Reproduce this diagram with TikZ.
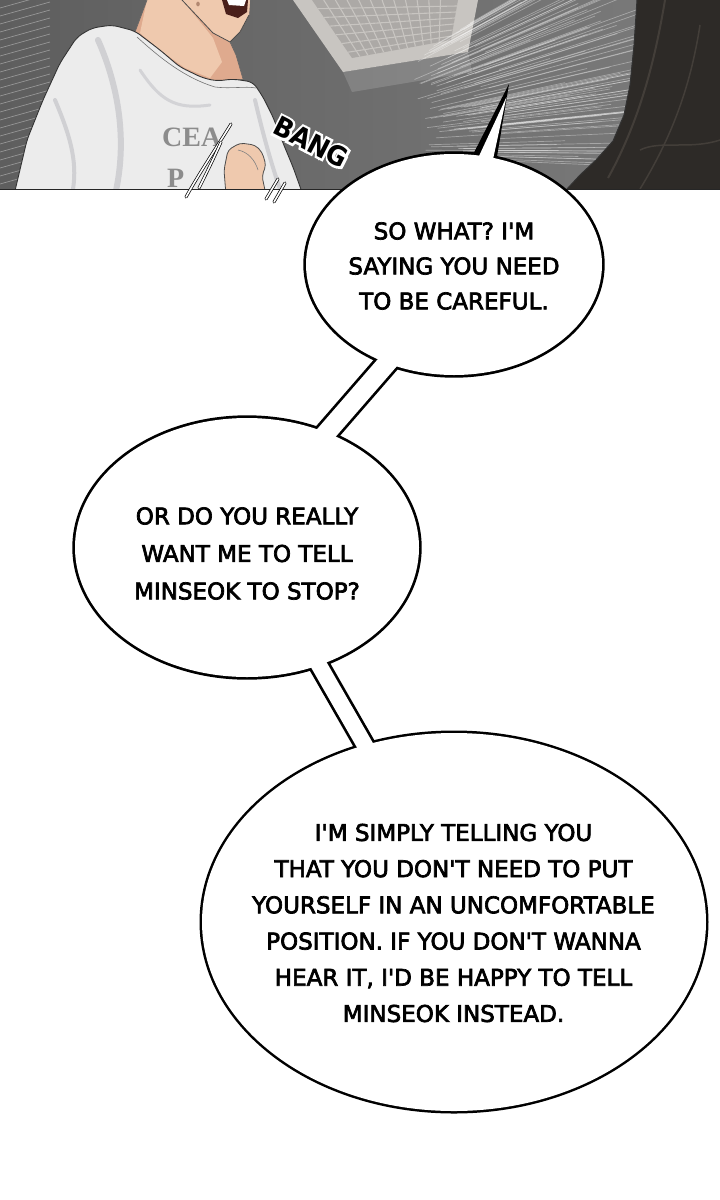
\documentclass[tikz,border=0pt]{standalone}
\usepackage{fontspec}
\setmainfont{DejaVu Sans}
\newfontfamily\bubblefont{DejaVu Sans}[FakeBold=3]
\newfontfamily\bangfont{DejaVu Sans Bold}
\newfontfamily\bangwhitefont{DejaVu Sans Bold}[FakeBold=18]
\newfontfamily\shirtfont{Liberation Serif}
\usetikzlibrary{calc}
\definecolor{bgdark}{HTML}{5E5E5E}
\definecolor{bgright}{HTML}{7C7C7C}
\definecolor{lightc}{HTML}{C8C5C1}
\definecolor{gridc}{HTML}{ACA9A6}
\definecolor{figc}{HTML}{2D2A27}
\definecolor{foldc}{HTML}{433E39}
\definecolor{shirtc}{HTML}{ECECEC}
\definecolor{shirtshade}{HTML}{CDCDD1}
\definecolor{skinc}{HTML}{EFC9AE}
\definecolor{skinshade}{HTML}{DFAA8E}
\definecolor{mouthc}{HTML}{4A1F1A}
\definecolor{printc}{HTML}{8C8C8C}
\begin{document}
\begin{tikzpicture}[x=1pt,y=-1pt,
  bubbleline/.style={line width=5.4pt, draw=black, line join=round},
  bubbletext/.style={align=center, text=black, inner sep=0pt},
  speedline/.style={line width=0.7pt, draw=white, opacity=0.35},
  motionline/.style={draw=black, line width=0.7pt, double=white, double distance=1.6pt, line cap=round},
  bangstyle/.style={inner sep=0pt, rotate=-27, xscale=0.92}
]
\useasboundingbox (0,0) rectangle (720,1200);
\fill[white] (0,0) rectangle (720,1200);

% ---------------- top panel ----------------
\begin{scope}
\clip (0,0) rectangle (720,189);
\shade[left color=bgdark, right color=bgright] (0,0) rectangle (720,189);
% ceiling light
\fill[lightc] (293,0) -- (478,0) -- (468,52) -- (343,72) -- cycle;
\fill[white, opacity=0.15] (343,72) -- (468,52) -- (472,72) -- (352,92) -- cycle;
\begin{scope}
\clip (312,0) -- (458,0) -- (451,40) -- (352,58) -- cycle;
\fill[gridc] (300,-5) rectangle (480,80);
\foreach \t in {0.08,0.16,...,0.96}
  \draw[lightc, line width=1.1pt] ($(312,0)!\t!(458,0)$) -- ($(352,58)!\t!(451,40)$);
\foreach \t in {0.15,0.3,...,0.95}
  \draw[lightc, line width=1.1pt] ($(312,0)!\t!(352,58)$) -- ($(458,0)!\t!(451,40)$);
\end{scope}
% speed lines
\pgfmathsetseed{11}
\foreach \i in {1,...,110}{
  \pgfmathsetmacro\ang{-30+33*rnd}
  \pgfmathsetmacro\ra{175+90*rnd}
  \pgfmathsetmacro\rb{\ra+110+130*rnd}
  \draw[speedline] ($(250,150)+(\ang:\ra)$) -- ($(250,150)+(\ang:\rb)$);
}
\foreach \yy in {8,16,...,184}
  \draw[speedline] (0,\yy) -- (50,\yy-14);
% dark figure on the right
\fill[figc] (637,0) -- (720,0) -- (720,189) -- (567,189) -- (580,175) -- (596,160) -- (613,141) -- (624,115) -- (630,85) -- (634,45) -- cycle;
\draw[foldc, line width=2pt] (665,0) .. controls (655,60) and (640,120) .. (608,178);
\draw[foldc, line width=1.5pt] (700,25) .. controls (690,90) and (670,140) .. (640,189);
\draw[foldc, line width=1.5pt] (640,150) .. controls (660,140) and (690,150) .. (720,140);
\draw[black!80, line width=1pt] (637,0) -- (634,45) -- (630,85) -- (624,115) -- (613,141) -- (596,160) -- (580,175) -- (567,189);
% skin: neck and face
\fill[skinshade] (147,0) -- (250,0) -- (249,15) -- (240,32) -- (230,42) -- (236,55) -- (243,79) -- (217,82) -- (203,80) -- (180,69) -- (160,52) -- (140,35) -- (135,32) -- cycle;
\fill[skinc] (147,0) -- (182,0) -- (205,28) -- (213,38) -- (222,62) -- (210,78) -- (185,68) -- (160,50) -- (140,33) -- cycle;
\fill[skinc] (182,0) -- (250,0) -- (249,15) -- (240,32) -- (230,42) -- (213,33) -- cycle;
\draw[black!70, line width=0.8pt] (182,0) -- (213,33) -- (230,42) -- (240,32) -- (249,15);
\draw[black!60, line width=0.7pt] (147,0) -- (135,32);
\draw[black!60, line width=0.6pt] (230,42) -- (236,55) -- (243,79);
\fill[mouthc] (222,0) -- (248,0) -- (247,12) -- (238,18) -- (226,14) -- cycle;
\fill[white] (227,0) -- (246,0) -- (244,6) -- (229,5) -- cycle;
\fill[skinshade!80!black] (198,4) ellipse [x radius=1.8pt, y radius=2.4pt];
% shirt
\filldraw[fill=shirtc, draw=black!80, line width=0.9pt, rounded corners=6pt]
  (14,195) -- (27,140) -- (43,100) -- (60,63) -- (77,37) -- (92,28) -- (112,25) -- (135,31)
  -- (160,50) -- (180,67) -- (203,78) -- (217,81) -- (233,79) -- (253,82)
  -- (263,97) -- (273,117) -- (283,143) -- (293,167) -- (303,195) -- cycle;
\draw[black!55, line width=0.6pt] (137,37) .. controls (160,58) and (185,78) .. (215,87) .. controls (232,89) and (245,86) .. (256,88);
\draw[shirtshade, line width=6pt, line cap=round, opacity=0.9] (98,40) .. controls (118,85) and (128,140) .. (115,195);
\draw[shirtshade, line width=4pt, line cap=round, opacity=0.9] (55,100) .. controls (72,140) and (78,165) .. (72,195);
\draw[shirtshade, line width=4pt, line cap=round, opacity=0.9] (255,100) .. controls (262,130) and (270,160) .. (280,189);
\draw[shirtshade, line width=3pt, line cap=round, opacity=0.8] (140,70) .. controls (160,100) and (175,110) .. (210,105);
\node (print1) [text=printc, font=\shirtfont\bfseries\fontsize{28}{28}\selectfont, inner sep=0pt, anchor=west] at (162,137) {CEA};
\node (print2) [text=printc, font=\shirtfont\bfseries\fontsize{28}{28}\selectfont, inner sep=0pt, anchor=west] at (167,178) {P};
% fist
\filldraw[fill=skinc, draw=black!70, line width=0.8pt, rounded corners=4pt]
  (228,150) -- (240,143) -- (255,145) -- (262,152) -- (266,165) -- (262,176) -- (266,195) -- (226,195) -- (224,170) -- cycle;
\draw[black!50, line width=0.6pt] (238,150) .. controls (248,152) and (255,160) .. (258,170);
% BANG (white outline and black letters in one node)
\node (bang) [bangstyle, text=black, font=\fontsize{27}{27}\selectfont] at (311,142)
  {\makebox[0pt][l]{\bangwhitefont\color{white}BANG}\bangfont BANG};
\end{scope}
\draw[black!85, line width=1pt] (0,189) -- (720,189);
% motion lines
\draw[motionline] (231,124) .. controls (215,150) and (200,172) .. (186,197);
\draw[motionline] (221,142) .. controls (213,160) and (206,174) .. (199,188);
\draw[motionline] (278,179) -- (266,199);
\draw[motionline] (285,183) -- (274,202);

% ---------------- speech bubbles ----------------
\coordinate (c1) at (454,264.5);
\coordinate (c2) at (247,547.5);
\coordinate (c3) at (454,922);
\coordinate (b1s) at (427,317);
\coordinate (b1e) at (289,476);
\coordinate (b2s) at (289.7,614);
\coordinate (b2e) at (394,796);
\coordinate (tip) at (509,84);

% outlines
\draw[bubbleline] (c1) ellipse [x radius=148pt, y radius=110.5pt];
\draw[bubbleline] (c2) ellipse [x radius=172pt, y radius=129.5pt];
\draw[bubbleline, line width=5pt] (c3) ellipse [x radius=252pt, y radius=189pt];
\draw[bubbleline, line join=miter] ($(b1s)!9.5pt!90:(b1e)$) -- ($(b1e)!9.5pt!-90:(b1s)$) -- ($(b1e)!9.5pt!90:(b1s)$) -- ($(b1s)!9.5pt!-90:(b1e)$) -- cycle;
\draw[bubbleline, line join=miter] ($(b2s)!8pt!90:(b2e)$) -- ($(b2e)!8pt!-90:(b2s)$) -- ($(b2e)!8pt!90:(b2s)$) -- ($(b2s)!8pt!-90:(b2e)$) -- cycle;
\fill[black] (459,182) -- (tip) -- (492,187) -- cycle;
% white interiors
\fill[white] (c1) ellipse [x radius=148pt, y radius=110.5pt];
\fill[white] (c2) ellipse [x radius=172pt, y radius=129.5pt];
\fill[white] (c3) ellipse [x radius=252pt, y radius=189pt];
\fill[white] ($(b1s)!9.5pt!90:(b1e)$) -- ($(b1e)!9.5pt!-90:(b1s)$) -- ($(b1e)!9.5pt!90:(b1s)$) -- ($(b1s)!9.5pt!-90:(b1e)$) -- cycle;
\fill[white] ($(b2s)!8pt!90:(b2e)$) -- ($(b2e)!8pt!-90:(b2s)$) -- ($(b2e)!8pt!90:(b2s)$) -- ($(b2s)!8pt!-90:(b2e)$) -- cycle;
\fill[white] (466,184) -- (506.5,97) -- (487,187) -- cycle;

% texts
\node (t1) [bubbletext, font=\bubblefont\fontsize{23}{35}\selectfont] at (454,266)
  {SO WHAT? I'M\\SAYING YOU NEED\\TO BE CAREFUL.};
\node (t2) [bubbletext, font=\bubblefont\fontsize{23}{37.5}\selectfont] at (247,553.5)
  {OR DO YOU REALLY\\WANT ME TO TELL\\MINSEOK TO STOP?};
\node (t3) [bubbletext, font=\bubblefont\fontsize{23}{36.2}\selectfont] at (453.5,923)
  {I'M SIMPLY TELLING YOU\\THAT YOU DON'T NEED TO PUT\\YOURSELF IN AN UNCOMFORTABLE\\POSITION. IF YOU DON'T WANNA\\HEAR IT, I'D BE HAPPY TO TELL\\MINSEOK INSTEAD.};
\end{tikzpicture}
\end{document}
